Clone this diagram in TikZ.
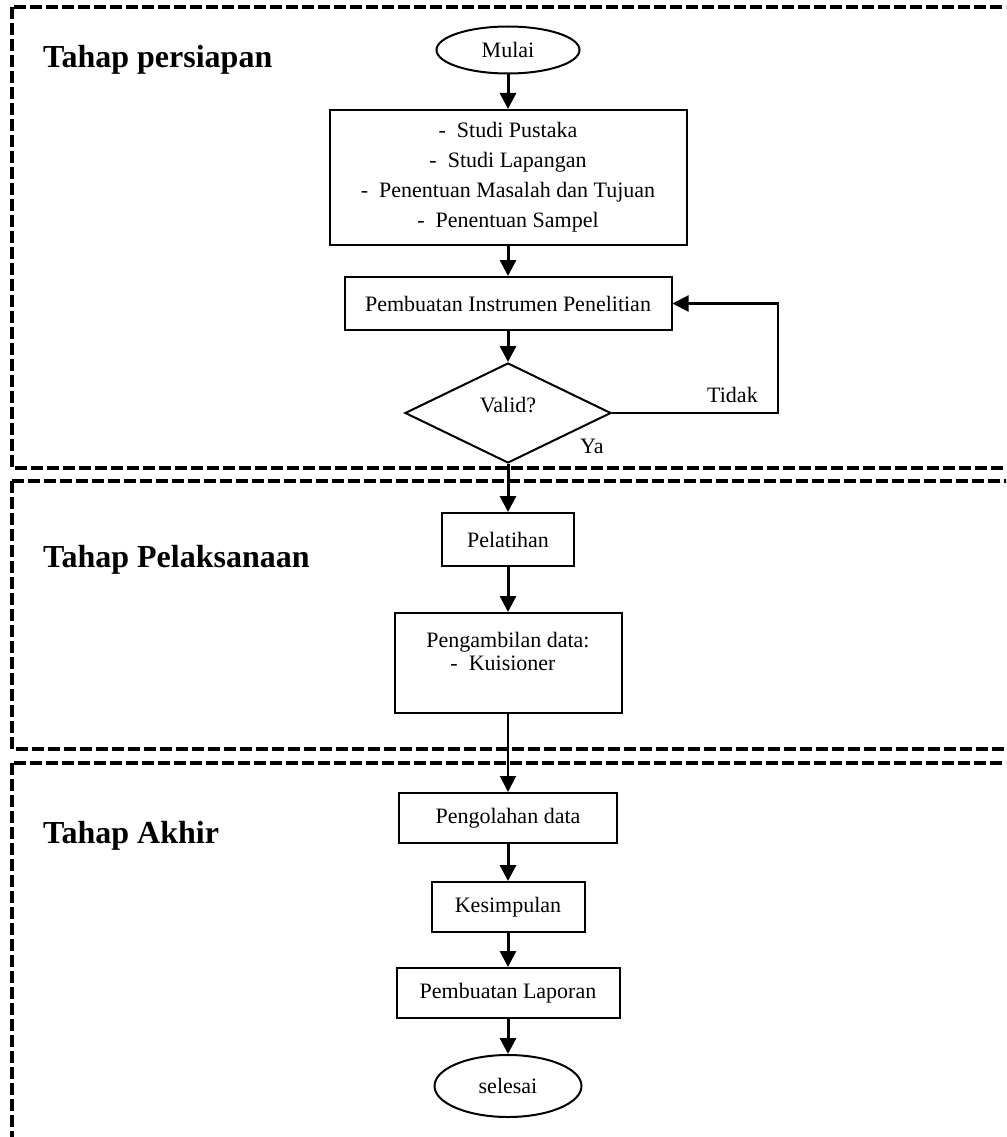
\documentclass[tikz,border=0pt]{standalone}
\usepackage{fontspec}
\setmainfont{Liberation Serif}
\usetikzlibrary{positioning,arrows.meta,shapes.geometric}
\tikzset{
  box/.style={
    draw, align=center, inner sep=0pt, line width=2pt,
    font=\fontsize{22}{30}\selectfont,
  },
  term/.style  ={box, ellipse},
  decide/.style={box, diamond, aspect=2},
  flow/.style  ={-{Triangle[length=16pt,width=16pt]}, line width=3pt},
  thinflow/.style={flow, line width=1.8pt},
  backflow/.style={-{Triangle[length=16pt,width=16pt]}, line width=2.2pt},
  lbl/.style   ={font=\fontsize{22}{26}\selectfont, inner sep=0pt, anchor=base west},
  zone/.style  ={draw, line width=3.2pt, dash pattern=on 12pt off 4pt},
  ztitle/.style={font=\fontsize{32}{38}\selectfont\bfseries, inner sep=0pt,
                 anchor=base west},
}

\begin{document}
\begin{tikzpicture}[x=1pt, y=-1pt]
\useasboundingbox (0,0) rectangle (1006,1137);
\clip (0,0) rectangle (1006,1137);
\fill[white] (0,0) rectangle (1006,1137);

% ============================================ the three stages
\draw[zone] (12,7)   rectangle (1030,468);
\draw[zone] (12,481) rectangle (1030,749);
\draw[zone] (12,763) rectangle (1030,1160);

\node[ztitle] (t1) at (43,68)  {Tahap persiapan};
\node[ztitle] (t2) at (43,567) {Tahap Pelaksanaan};
\node[ztitle] (t3) at (43,843) {Tahap Akhir};

% ============================================ preparation
\node[term, minimum width=143pt, minimum height=47pt] (mulai) at (508,50) {Mulai};
\node[box, minimum width=357pt, minimum height=135pt] (studi) at (508,177.5)
  {-~ Studi Pustaka\\ -~ Studi Lapangan\\ -~ Penentuan Masalah dan Tujuan\\
   -~ Penentuan Sampel};
\node[box, minimum width=327pt, minimum height=53pt] (instr) at (508,303.5)
  {Pembuatan Instrumen Penelitian};
\node[decide, minimum width=206pt, minimum height=100pt] (valid) at (508,413)
  {\raisebox{8pt}[\height][\depth]{Valid?}};

\draw[flow] (mulai) -- (studi);
\draw[flow] (studi) -- (instr);
\draw[flow] (instr) -- (valid);
\draw[backflow] (valid.east) -- ++(166,0) |- (instr.east);
\node[lbl] (tidak) at (707,402) {Tidak};
\node[lbl] (ya) at (580,453) {Ya};

% ============================================ execution
\node[box, minimum width=132pt, minimum height=53pt] (latih) at (508,539.5) {Pelatihan};
\node[box, minimum width=227pt, minimum height=100pt, align=left,
      font=\fontsize{22}{23}\selectfont] (ambil) at (508,663)
  {Pengambilan data:\\\hspace*{24pt}-~ Kuisioner\\\mbox{}};

\draw[flow] (valid) -- (latih);
\draw[flow] (latih) -- (ambil);

% ============================================ final
\node[box, minimum width=218pt, minimum height=50pt] (olah) at (508,818) {Pengolahan data};
\node[box, minimum width=153pt, minimum height=50pt] (simpul) at (508,907) {Kesimpulan};
\node[box, minimum width=223pt, minimum height=50pt] (lapor) at (508,993) {Pembuatan Laporan};
\node[term, minimum width=147pt, minimum height=62pt] (selesai) at (508,1086) {selesai};

\draw[thinflow] (ambil) -- (olah);
\draw[flow] (olah) -- (simpul);
\draw[flow] (simpul) -- (lapor);
\draw[flow] (lapor) -- (selesai);

\end{tikzpicture}
\end{document}
